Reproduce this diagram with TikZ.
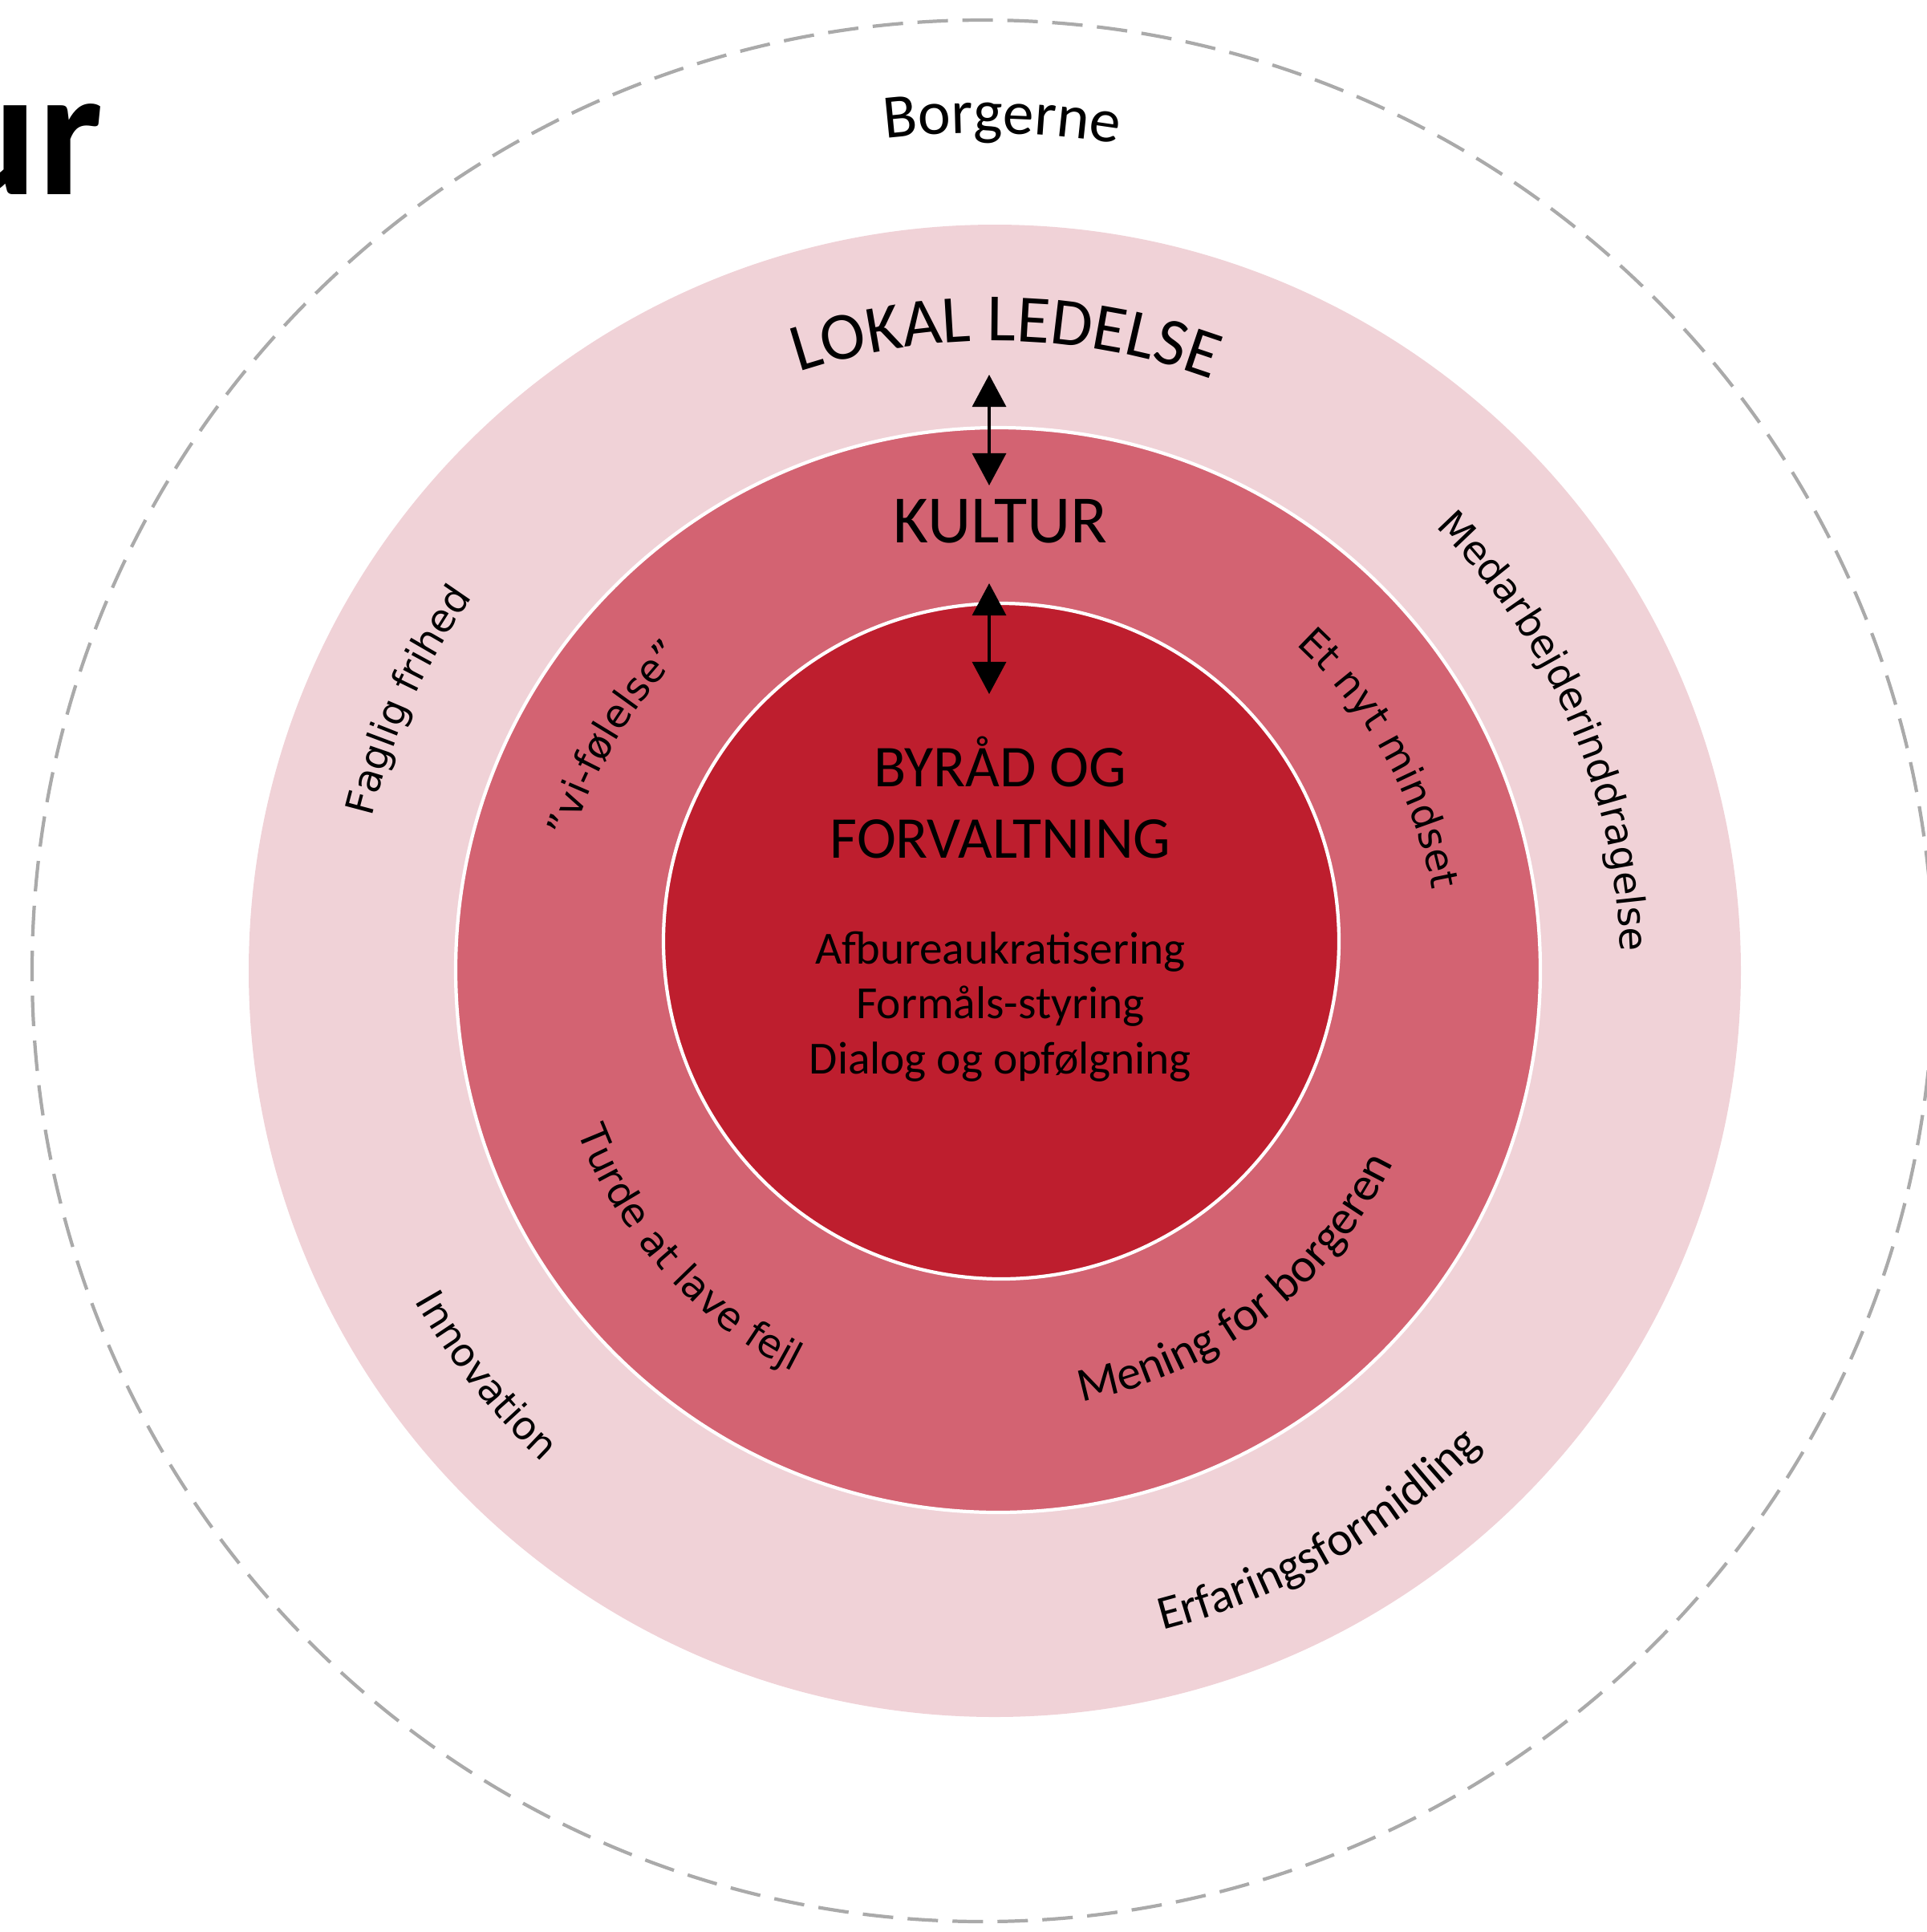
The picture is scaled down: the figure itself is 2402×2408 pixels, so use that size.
\documentclass[tikz,border=0pt]{standalone}
\usepackage{fontspec}
\setmainfont{Carlito}
\newfontfamily\gothfont{DejaVu Sans}
\usetikzlibrary{arrows.meta,decorations.text}

\definecolor{ringlys}{RGB}{240,210,215}
\definecolor{ringmid}{RGB}{211,99,114}
\definecolor{kerne}{RGB}{190,30,46}
\definecolor{stiplet}{RGB}{170,170,170}

% fonts for the labels
\newcommand\overfont{\fontsize{24}{28}\selectfont}
\newcommand\kernefont{\fontsize{21}{25}\selectfont}
\newcommand\smaafont{\fontsize{16.3}{19.6}\selectfont}
\newcommand\buefont{\gothfont\fontsize{13.8}{16}\selectfont}
\newcommand\calbuefont{\fontsize{17}{20}\selectfont}

\tikzset{
  ring/.style={draw=white, line width=1.2pt},
  buetekst/.style={decorate, decoration={text along path, text align=center, text={#1}}},
  pil/.style={line width=0.9pt, {Triangle[length=0.4cm,width=0.42cm]}-{Triangle[length=0.4cm,width=0.42cm]}},
}

\begin{document}
\begin{tikzpicture}[x=0.01cm,y=0.01cm]
  \useasboundingbox (0,0) rectangle (2402,-2408);
  \clip (0,0) rectangle (2402,-2408);
  \coordinate (cb) at (1225,-1210);
  \coordinate (c1) at (1240,-1210);
  \coordinate (c2) at (1244,-1209);
  \coordinate (c3) at (1248,-1173);

  % circles
  \draw[stiplet, line width=1.2pt, dash pattern=on 3.8mm off 1.8mm] (cb) circle[radius=1185];
  \fill[ringlys] (c1) circle[radius=930];
  \draw[ring, fill=ringmid] (c2) circle[radius=676];
  \draw[ring, fill=kerne] (c3) circle[radius=421];

  \node[anchor=base east, inner sep=0pt, font=\fontsize{65}{70}\selectfont\bfseries] (titel) at (129,-242) {ur};

  % top texts, clockwise
  \path[buetekst={|\fontsize{22}{26}\selectfont|Borgerne}] (cb) ++(148.7:1044) arc[start angle=148.7, end angle=28.7, radius=1044];
  \path[buetekst={|\overfont|LOKAL LEDELSE}] (c1) ++(149:785) arc[start angle=149, end angle=29, radius=785];
  \path[buetekst={|\buefont|Faglig frihed}] (c1) ++(215.3:800) arc[start angle=215.3, end angle=95.3, radius=800];
  \path[buetekst={|\buefont|Medarbejderinddragelse}] (c1) ++(83.5:780) arc[start angle=83.5, end angle=-36.5, radius=780];
  \path[buetekst={|\buefont|”vi-følelse”}] (c2) ++(209:555) arc[start angle=209, end angle=89, radius=555];
  \path[buetekst={|\buefont|Et nyt mindset}] (c2) ++(89:550) arc[start angle=89, end angle=-31, radius=550];

  % bottom texts, counter clockwise
  \path[buetekst={|\buefont|Turde at lave fejl}] (c2) ++(162:562) arc[start angle=162, end angle=282, radius=562];
  \path[buetekst={|\calbuefont|Mening for borgeren}] (c2) ++(247.5:548) arc[start angle=247.5, end angle=367.5, radius=548];
  \path[buetekst={|\buefont|Innovation}] (c1) ++(158.5:832) arc[start angle=158.5, end angle=278.5, radius=832];
  \path[buetekst={|\calbuefont|Erfaringsformidling}] (c1) ++(240:848) arc[start angle=240, end angle=360, radius=848];

  % straight texts
  \node[anchor=base, font=\overfont] (kultur) at (1247,-676) {KULTUR};
  \node[anchor=base, font=\kernefont] (byraad) at (1247,-980) {BYRÅD OG};
  \node[anchor=base, font=\kernefont] (forvaltning) at (1247,-1069) {FORVALTNING};
  \node[anchor=base, font=\smaafont] (afbur) at (1247,-1201) {Afbureaukratisering};
  \node[anchor=base, font=\smaafont] (formaal) at (1247,-1269) {Formåls-styring};
  \node[anchor=base, font=\smaafont] (dialog) at (1247,-1338) {Dialog og opfølgning};

  % arrows between the layers
  \coordinate (lokalpil) at (1233,-467);
  \coordinate (kulturpil) at (1233,-605);
  \coordinate (kulturpil2) at (1233,-727);
  \coordinate (kernepil) at (1233,-865);
  \draw[pil] (lokalpil) -- (kulturpil);
  \draw[pil] (kulturpil2) -- (kernepil);
\end{tikzpicture}
\end{document}
